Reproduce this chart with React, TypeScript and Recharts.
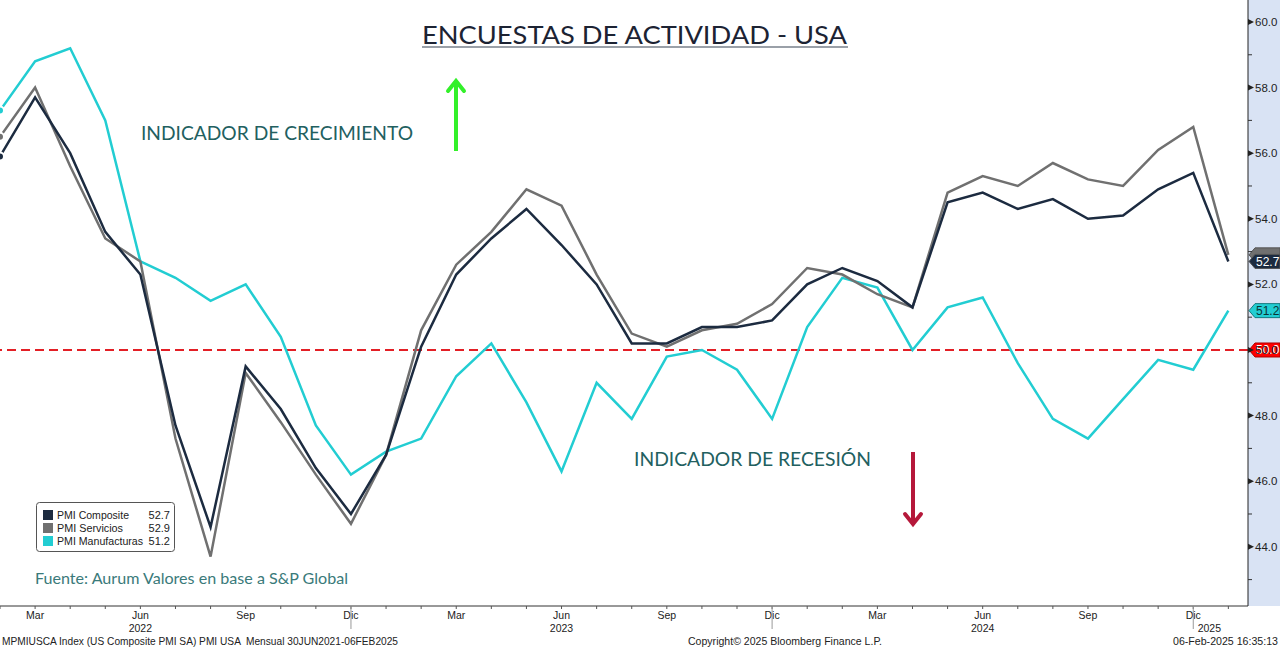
import React from 'react';
import { LineChart, Line, XAxis, YAxis, ReferenceLine } from 'recharts';

// Feb 2022 .. Ene 2025 (PMI S&P Global, EE.UU.)
const PERIODS = [
  'Feb 2022', 'Mar 2022', 'Abr 2022', 'May 2022', 'Jun 2022', 'Jul 2022', 'Ago 2022', 'Sep 2022', 'Oct 2022', 'Nov 2022', 'Dic 2022',
  'Ene 2023', 'Feb 2023', 'Mar 2023', 'Abr 2023', 'May 2023', 'Jun 2023', 'Jul 2023', 'Ago 2023', 'Sep 2023', 'Oct 2023', 'Nov 2023', 'Dic 2023',
  'Ene 2024', 'Feb 2024', 'Mar 2024', 'Abr 2024', 'May 2024', 'Jun 2024', 'Jul 2024', 'Ago 2024', 'Sep 2024', 'Oct 2024', 'Nov 2024', 'Dic 2024',
  'Ene 2025',
];

const composite = [
  55.9, 57.7, 56.0, 53.6, 52.3, 47.7, 44.6, 49.5, 48.2, 46.4, 45.0,
  46.8, 50.1, 52.3, 53.4, 54.3, 53.2, 52.0, 50.2, 50.2, 50.7, 50.7, 50.9,
  52.0, 52.5, 52.1, 51.3, 54.5, 54.8, 54.3, 54.6, 54.0, 54.1, 54.9, 55.4,
  52.7,
];

const servicios = [
  56.5, 58.0, 55.6, 53.4, 52.7, 47.3, 43.7, 49.3, 47.8, 46.2, 44.7,
  46.8, 50.6, 52.6, 53.6, 54.9, 54.4, 52.3, 50.5, 50.1, 50.6, 50.8, 51.4,
  52.5, 52.3, 51.7, 51.3, 54.8, 55.3, 55.0, 55.7, 55.2, 55.0, 56.1, 56.8,
  52.9,
];

const manufacturas = [
  57.3, 58.8, 59.2, 57.0, 52.7, 52.2, 51.5, 52.0, 50.4, 47.7, 46.2,
  46.9, 47.3, 49.2, 50.2, 48.4, 46.3, 49.0, 47.9, 49.8, 50.0, 49.4, 47.9,
  50.7, 52.2, 51.9, 50.0, 51.3, 51.6, 49.6, 47.9, 47.3, 48.5, 49.7, 49.4,
  51.2,
];

const Y_TICKS = [43, 44, 45, 46, 47, 48, 49, 50, 51, 52, 53, 54, 55, 56, 57, 58, 59, 60];
const LABELED_MONTHS = ['Mar', 'Jun', 'Sep', 'Dic'];
const THRESHOLD = 50;

const NAVY = '#1c2b40';
const GRAY = '#707070';
const CYAN = '#22cdd2';
const RED = '#e31f26';
const TEAL = '#22605f';
const AXIS_FONT = '"Liberation Sans", Arial, sans-serif';

const data = PERIODS.map((p, i) => ({
  i,
  period: p,
  composite: composite[i],
  servicios: servicios[i],
  manufacturas: manufacturas[i],
}));

const XTick = (props: any) => {
  const { x, y, payload } = props;
  const [mon, yr] = PERIODS[payload.value].split(' ');
  return (
    <g>
      <line x1={x} x2={x} y1={y} y2={y + 3} stroke="#555" />
      {LABELED_MONTHS.includes(mon) && (
        <text x={x} y={y + 13} textAnchor="middle" fontSize={10.5} fontFamily={AXIS_FONT} fill="#222">
          {mon}
        </text>
      )}
      {mon === 'Jun' && (
        <text x={x} y={y + 26} textAnchor="middle" fontSize={10.5} fontFamily={AXIS_FONT} fill="#222">
          {yr}
        </text>
      )}
      {mon === 'Dic' && <line x1={x} x2={x} y1={y} y2={y + 23} stroke="#999" />}
      {mon === 'Ene' && yr === '2025' && (
        <text x={x - 19} y={y + 26} textAnchor="middle" fontSize={10.5} fontFamily={AXIS_FONT} fill="#222">
          {yr}
        </text>
      )}
    </g>
  );
};

const YTick = (props: any) => {
  const { x, y, payload } = props;
  const v = payload.value;
  if (v % 2 !== 0) {
    return <line x1={x} x2={x + 4} y1={y} y2={y} stroke="#333" />;
  }
  return (
    <g>
      <path d={`M${x} ${y - 3} L${x + 6} ${y} L${x} ${y + 3} Z`} fill="#222" />
      <text x={x + 7} y={y + 4} fontSize={11.5} fontFamily={AXIS_FONT} fill="#222">
        {v.toFixed(1)}
      </text>
    </g>
  );
};

const tag = (text: string, fill: string, color: string, border: string) => (props: any) => {
  const { viewBox } = props;
  const tip = viewBox.x + viewBox.width + 1;
  const y = viewBox.y;
  return (
    <g>
      <path
        d={`M${tip} ${y} L${tip + 6} ${y - 7} L1280 ${y - 7} L1280 ${y + 7} L${tip + 6} ${y + 7} Z`}
        fill={fill}
        stroke={border}
        strokeWidth={1}
      />
      <text x={tip + 7} y={y + 4.5} fontSize={12} fontFamily={AXIS_FONT} fill={color}>
        {text}
      </text>
    </g>
  );
};

// servicios tag sits behind the composite one, only its top edge shows
const hiddenTag = (fill: string, border: string) => (props: any) => {
  const { viewBox } = props;
  const tip = viewBox.x + viewBox.width + 1;
  const y = viewBox.y;
  return (
    <path
      d={`M${tip} ${y} L${tip + 6} ${y - 7} L1280 ${y - 7} L1280 ${y + 7} L${tip + 6} ${y + 7} Z`}
      fill={fill}
      stroke={border}
      strokeWidth={1}
    />
  );
};

const LEGEND = [
  { name: 'PMI Composite', color: NAVY, value: composite[composite.length - 1], w: 72 },
  { name: 'PMI Servicios', color: GRAY, value: servicios[servicios.length - 1], w: 66 },
  { name: 'PMI Manufacturas', color: CYAN, value: manufacturas[manufacturas.length - 1], w: 86 },
];

export default function App() {
  return (
    <div style={{ position: 'absolute', left: 0, top: 0, width: 1280, height: 648, background: '#fff', overflow: 'hidden' }}>
      <div style={{ position: 'absolute', left: 1248, top: 0, width: 32, height: 606, background: '#d9e3f4' }} />
      <div style={{ position: 'absolute', left: 0, top: 0 }}>
        <LineChart width={1280} height={648} data={data} margin={{ top: 0, right: 0, left: 0, bottom: 0 }}>
          <XAxis
            dataKey="i"
            type="number"
            domain={[0, 35.56]}
            allowDataOverflow
            ticks={PERIODS.map((_, i) => i)}
            interval={0}
            height={42}
            tickSize={0}
            tickMargin={0}
            tick={<XTick />}
            axisLine={{ stroke: '#333' }}
            tickLine={false}
          />
          <YAxis
            orientation="right"
            width={32}
            domain={[42.195, 60.67]}
            allowDataOverflow
            ticks={Y_TICKS}
            interval={0}
            tickSize={0}
            tickMargin={0}
            tick={<YTick />}
            axisLine={{ stroke: '#222' }}
            tickLine={false}
          />
          <ReferenceLine y={THRESHOLD} stroke={RED} strokeWidth={2} strokeDasharray="9 5" label={tag('50.0', '#ff0000', '#fff', '#b00000')} />
          <Line dataKey="manufacturas" stroke={CYAN} strokeWidth={2.5} dot={false} isAnimationActive={false} />
          <Line dataKey="servicios" stroke={GRAY} strokeWidth={2.5} dot={false} isAnimationActive={false} />
          <Line dataKey="composite" stroke={NAVY} strokeWidth={2.5} dot={false} isAnimationActive={false} />
          <ReferenceLine y={servicios[servicios.length - 1]} stroke="none" label={hiddenTag(GRAY, '#555')} />
          <ReferenceLine y={composite[composite.length - 1]} stroke="none" label={tag('52.7', NAVY, '#fff', '#555')} />
          <ReferenceLine y={manufacturas[manufacturas.length - 1]} stroke="none" label={tag('51.2', CYAN, '#0b3434', '#127a7e')} />
        </LineChart>
      </div>
      <svg width={1280} height={648} style={{ position: 'absolute', left: 0, top: 0, pointerEvents: 'none' }}>
        <text x={422} y={43.5} fontSize={25} fontFamily="Lato, sans-serif" fill="#1c2333" textLength={425} lengthAdjust="spacingAndGlyphs">
          ENCUESTAS DE ACTIVIDAD - USA
        </text>
        <line x1={422} x2={848} y1={47} y2={47} stroke="#9aa0a8" strokeWidth={2} />

        <text x={141} y={139.5} fontSize={19.5} fontFamily="Lato, sans-serif" fill={TEAL} textLength={272} lengthAdjust="spacingAndGlyphs">
          INDICADOR DE CRECIMIENTO
        </text>
        <line x1={456} x2={456} y1={151} y2={82} stroke="#33f02a" strokeWidth={4} />
        <polyline points="448,91 456,81 464,91" fill="none" stroke="#33f02a" strokeWidth={4} strokeLinecap="round" />

        <text x={634} y={466} fontSize={19.5} fontFamily="Lato, sans-serif" fill={TEAL} textLength={237} lengthAdjust="spacingAndGlyphs">
          INDICADOR DE RECESIÓN
        </text>
        <line x1={913} x2={913} y1={452} y2={522} stroke="#b5183a" strokeWidth={4} />
        <polyline points="905,514 913,524 921,514" fill="none" stroke="#b5183a" strokeWidth={4} strokeLinecap="round" />

        <rect x={36.5} y={502.5} width={138} height={49} rx={3} fill="#fff" stroke="#555" />
        {LEGEND.map((l, k) => (
          <g key={l.name}>
            <rect x={43} y={510 + k * 13} width={10} height={10} fill={l.color} />
            <text x={57} y={519 + k * 13} fontSize={11} fontFamily={AXIS_FONT} fill="#222" textLength={l.w} lengthAdjust="spacingAndGlyphs">
              {l.name}
            </text>
            <text x={170} y={519 + k * 13} fontSize={11} fontFamily={AXIS_FONT} fill="#222" textAnchor="end">
              {l.value.toFixed(1)}
            </text>
          </g>
        ))}

        <text x={35} y={584} fontSize={15} fontFamily="Lato, sans-serif" fill="#3a7a7a" textLength={313} lengthAdjust="spacingAndGlyphs">
          Fuente: Aurum Valores en base a S&amp;P Global
        </text>

        <text x={2} y={645} fontSize={10.5} fontFamily={AXIS_FONT} fill="#222" textLength={396} lengthAdjust="spacingAndGlyphs" xmlSpace="preserve">
          MPMIUSCA Index (US Composite PMI SA) PMI USA  Mensual 30JUN2021-06FEB2025
        </text>
        <text x={688} y={645} fontSize={10.5} fontFamily={AXIS_FONT} fill="#222" textLength={194} lengthAdjust="spacingAndGlyphs">
          Copyright© 2025 Bloomberg Finance L.P.
        </text>
        <text x={1173} y={645} fontSize={10.5} fontFamily={AXIS_FONT} fill="#222" textLength={105} lengthAdjust="spacingAndGlyphs">
          06-Feb-2025 16:35:13
        </text>
      </svg>
    </div>
  );
}
